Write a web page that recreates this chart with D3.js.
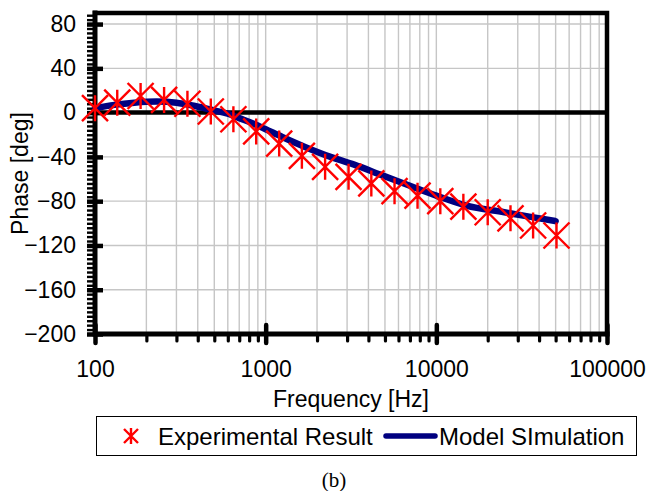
<!DOCTYPE html>
<html>
<head>
<meta charset="utf-8">
<script src="https://cdn.jsdelivr.net/npm/d3@7"></script>
<style>
  body { margin: 0; background: #ffffff; }
  #chart { width: 649px; height: 491px; }
  #chart text { font-family: "Liberation Sans", Arial, sans-serif; fill: #000; }
</style>
</head>
<body>
<div id="chart"></div>
<script>
// measured points (red stars)
const expFreq  = [100, 135, 185, 254, 348, 477, 647, 880, 1200, 1630, 2230, 3060, 4160, 5690, 7760, 10550, 14400, 20000, 27200, 36900, 50600];
const expPhase = [4, 9, 15, 11.5, 8, 1, -6, -17, -28, -39, -49, -58, -64, -71, -75, -80, -85, -90, -95.5, -102, -111];

// model curve (navy line)
const modelFreq  = [100, 130, 170, 230, 300, 385, 500, 600, 700, 850, 1000, 1250, 1700, 2400, 3300, 4700, 7000, 10000, 15000, 25000, 35000, 50000];
const modelPhase = [4, 7, 9, 10, 9, 6, 2, -1, -5, -10, -15, -22, -31, -40, -47, -56, -66, -75, -84, -90, -94, -98];

const xTickValues = [100, 1000, 10000, 100000];
const yTickValues = [80, 40, 0, -40, -80, -120, -160, -200];
const legendNames = ["Experimental Result", "Model SImulation"];

function PhaseChart() {

    let self = this;

    self.initialize = function(conf) {
        self.el = document.getElementById(conf.el);
        self.width  = 649;
        self.height = 491;
        self.margin = {top: 13, right: 42, bottom: 157, left: 95};

        self.x = d3.scaleLog()
                    .domain([100, 100000])
                    .range([self.margin.left, self.width - self.margin.right]);
        self.y = d3.scaleLinear()
                    .domain([-200, 90])
                    .range([self.height - self.margin.bottom, self.margin.top]);

        self.render();
    };

    self.render = function() {
        d3.select(self.el).selectAll("*").remove();
        self.svg = d3.select(self.el).append("svg")
                        .attr("width", self.width)
                        .attr("height", self.height);

        self.renderGrid();
        self.renderAxes();
        self.renderModel();
        self.renderStars();
        self.renderLegend();
    };

    self.renderGrid = function() {
        let x = self.x, y = self.y;
        let [x0, x1] = x.range();
        let [y0, y1] = y.range();

        let grid = self.svg.append("g").attr("class", "grid")
                        .attr("stroke", "#c6c6c6")
                        .attr("stroke-width", 1.4);

        grid.selectAll("line.v")
            .data(x.ticks())
            .enter().append("line")
            .attr("class", "v")
            .attr("x1", d => x(d)).attr("x2", d => x(d))
            .attr("y1", y1).attr("y2", y0);

        grid.selectAll("line.h")
            .data(yTickValues.filter(d => d !== 0 && d !== -200))
            .enter().append("line")
            .attr("class", "h")
            .attr("x1", x0).attr("x2", x1)
            .attr("y1", d => y(d)).attr("y2", d => y(d));

        // zero line
        self.svg.append("line")
            .attr("x1", x0).attr("x2", x1)
            .attr("y1", y(0)).attr("y2", y(0))
            .attr("stroke", "#000").attr("stroke-width", 4.5);

        // top and right frame
        self.svg.append("path")
            .attr("d", `M${x0},${y1}H${x1}V${y0}`)
            .attr("fill", "none")
            .attr("stroke", "#000")
            .attr("stroke-width", 4.5)
            .attr("stroke-linecap", "square");
    };

    self.renderAxes = function() {
        let x = self.x, y = self.y;
        let [x0, x1] = x.range();
        let [y0, y1] = y.range();

        // y minor ticks
        self.svg.append("g")
            .attr("transform", `translate(${x0},0)`)
            .call(d3.axisLeft(y).tickValues(d3.range(-200, 90, 4)).tickSize(8).tickFormat(""))
            .call(g => g.select(".domain").remove())
            .call(g => g.selectAll(".tick line").attr("stroke-width", 2.4));

        // y major ticks + labels
        self.svg.append("g")
            .attr("transform", `translate(${x0},0)`)
            .call(d3.axisLeft(y).tickValues(yTickValues).tickSize(8).tickPadding(11))
            .call(g => g.select(".domain").remove())
            .call(g => g.selectAll(".tick line").attr("x2", 8).attr("x1", -8).attr("stroke-width", 4.5))
            .call(g => g.selectAll(".tick text").attr("font-size", 23).attr("font-family", null));

        // x minor ticks
        self.svg.append("g")
            .attr("transform", `translate(0,${y0})`)
            .call(d3.axisBottom(x).tickValues(x.ticks().filter(d => xTickValues.indexOf(d) < 0)).tickSize(7).tickFormat(""))
            .call(g => g.select(".domain").remove())
            .call(g => g.selectAll(".tick line").attr("stroke-width", 3.2).attr("stroke-linecap", "round"));

        // x major ticks + labels
        self.svg.append("g")
            .attr("transform", `translate(0,${y0})`)
            .call(d3.axisBottom(x).tickValues(xTickValues).tickSize(9).tickPadding(18).tickFormat(d3.format("d")))
            .call(g => g.select(".domain").remove())
            .call(g => g.selectAll(".tick line").attr("y1", -9).attr("stroke-width", 4.5).attr("stroke-linecap", "round"))
            .call(g => g.selectAll(".tick text").attr("font-size", 23).attr("font-family", null));

        // axis lines
        self.svg.append("path")
            .attr("d", `M${x0},${y1}V${y0}H${x1}`)
            .attr("fill", "none")
            .attr("stroke", "#000")
            .attr("stroke-width", 5)
            .attr("stroke-linecap", "square");

        // axis titles
        self.svg.append("text")
            .attr("transform", `translate(28,${(y0 + y1) / 2}) rotate(-90)`)
            .attr("text-anchor", "middle")
            .attr("font-size", 23)
            .text("Phase [deg]");

        self.svg.append("text")
            .attr("x", (x0 + x1) / 2)
            .attr("y", 407)
            .attr("text-anchor", "middle")
            .attr("font-size", 23)
            .text("Frequency [Hz]");
    };

    self.renderModel = function() {
        let line = d3.line()
                    .x(d => self.x(d[0]))
                    .y(d => self.y(d[1]))
                    .curve(d3.curveMonotoneX);

        self.svg.append("path")
            .datum(d3.zip(modelFreq, modelPhase))
            .attr("d", line)
            .attr("fill", "none")
            .attr("stroke", "#000080")
            .attr("stroke-width", 6.5)
            .attr("stroke-linecap", "round")
            .attr("stroke-linejoin", "round");
    };

    self.starPath = function(s, v) {
        return `M${-s},${-s}L${s},${s}M${-s},${s}L${s},${-s}M0,${-v}L0,${v}`;
    };

    self.renderStars = function() {
        self.svg.append("g").attr("class", "stars")
            .selectAll("path")
            .data(d3.zip(expFreq, expPhase))
            .enter().append("path")
            .attr("transform", d => `translate(${self.x(d[0])},${self.y(d[1])})`)
            .attr("d", self.starPath(13, 13))
            .attr("fill", "none")
            .attr("stroke", "#ff0000")
            .attr("stroke-width", 2.4);
    };

    self.renderLegend = function() {
        let lg = self.svg.append("g").attr("class", "legend");

        lg.append("rect")
            .attr("x", 96.5).attr("y", 416.5)
            .attr("width", 540).attr("height", 39)
            .attr("fill", "#fff")
            .attr("stroke", "#000")
            .attr("stroke-width", 1);

        lg.append("path")
            .attr("transform", "translate(131,436)")
            .attr("d", self.starPath(7, 8))
            .attr("fill", "none")
            .attr("stroke", "#ff0000")
            .attr("stroke-width", 2.4);

        lg.append("text")
            .attr("x", 158).attr("y", 445)
            .attr("font-size", 24)
            .text(legendNames[0]);

        lg.append("line")
            .attr("x1", 386).attr("x2", 435)
            .attr("y1", 436).attr("y2", 436)
            .attr("stroke", "#000080")
            .attr("stroke-width", 5.5)
            .attr("stroke-linecap", "round");

        lg.append("text")
            .attr("x", 439).attr("y", 445)
            .attr("font-size", 24)
            .text(legendNames[1]);

        self.svg.append("text")
            .attr("x", 334).attr("y", 487)
            .attr("text-anchor", "middle")
            .attr("font-size", 21)
            .style("font-family", "'Liberation Serif', 'Times New Roman', serif")
            .text("(b)");
    };
}

let chart = new PhaseChart();
chart.initialize({el: "chart"});
</script>
</body>
</html>
